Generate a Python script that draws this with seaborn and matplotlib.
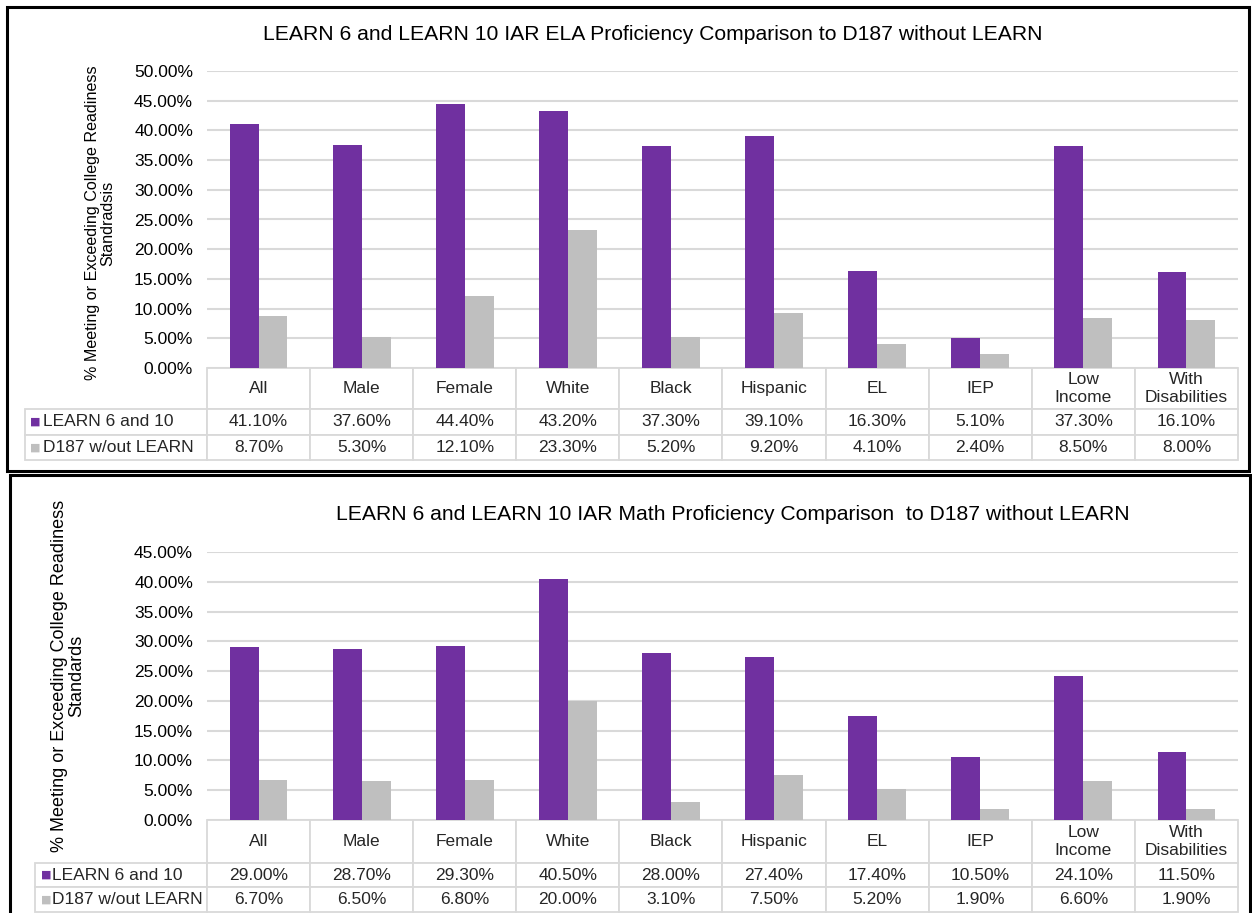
import pandas as pd
import matplotlib
matplotlib.use("Agg")
import matplotlib.pyplot as plt
import seaborn as sns
from matplotlib.patches import Rectangle
from matplotlib.ticker import PercentFormatter, MultipleLocator

groups = ["All", "Male", "Female", "White", "Black", "Hispanic", "EL", "IEP",
          "Low\nIncome", "With\nDisabilities"]
series = ["LEARN 6 and 10", "D187 w/out LEARN"]

ela_learn = [41.1, 37.6, 44.4, 43.2, 37.3, 39.1, 16.3, 5.1, 37.3, 16.1]
ela_d187 = [8.7, 5.3, 12.1, 23.3, 5.2, 9.2, 4.1, 2.4, 8.5, 8.0]
math_learn = [29.0, 28.7, 29.3, 40.5, 28.0, 27.4, 17.4, 10.5, 24.1, 11.5]
math_d187 = [6.7, 6.5, 6.8, 20.0, 3.1, 7.5, 5.2, 1.9, 6.6, 1.9]

ela_title = "LEARN 6 and LEARN 10 IAR ELA Proficiency Comparison to D187 without LEARN"
math_title = "LEARN 6 and LEARN 10 IAR Math Proficiency Comparison  to D187 without LEARN"
ela_ylabel = "% Meeting or Exceeding College Readiness\nStandradsis"
math_ylabel = "% Meeting or Exceeding College Readiness\nStandards"

PURPLE = "#7030A0"
GRAY = "#BFBFBF"
GRID = "#D9D9D9"
W, H = 1252, 913

sns.set_style("white")
plt.rcParams["font.family"] = ["Liberation Sans", "DejaVu Sans"]


def fx(px):
    return px / W


def fy(py):
    return 1 - py / H


def panel(fig, learn, d187, title, ylabel, ymax, plot_box, tab_left, rows_px,
          title_xy, ylabel_xy, ylabel_size, key_x):
    left, top, right, bottom = plot_box
    ax = fig.add_axes([fx(left), fy(bottom), fx(right - left), (bottom - top) / H])

    df = pd.DataFrame({
        "group": groups * 2,
        "series": [series[0]] * len(groups) + [series[1]] * len(groups),
        "value": learn + d187,
    })
    sns.barplot(data=df, x="group", y="value", hue="series", order=groups,
                hue_order=series, palette=[PURPLE, GRAY], saturation=1,
                width=0.56, gap=0, errorbar=None, legend=False, linewidth=0, ax=ax)

    ax.set_ylim(0, ymax)
    ax.yaxis.set_major_locator(MultipleLocator(5))
    ax.yaxis.set_major_formatter(PercentFormatter(decimals=2))
    ax.set_axisbelow(True)
    ax.yaxis.grid(True, color=GRID, linewidth=1.5)
    ax.xaxis.grid(False)
    for s in ax.spines.values():
        s.set_visible(False)
    ax.tick_params(axis="x", length=0, labelbottom=False)
    ax.tick_params(axis="y", length=0, pad=10, labelsize=12.5, labelcolor="black")
    ax.set_xlabel("")
    ax.set_ylabel("")

    # data table under the bars
    ax_w = right - left
    ax_h = bottom - top
    lab_w = (left - tab_left) / ax_w
    tab_h = sum(rows_px) / ax_h
    cell_text = [[""] + groups,
                 [series[0]] + [f"{v:.2f}%" for v in learn],
                 [series[1]] + [f"{v:.2f}%" for v in d187]]
    tbl = ax.table(cellText=cell_text, colWidths=[lab_w] + [1 / len(groups)] * len(groups),
                   cellLoc="center", bbox=[-lab_w, -tab_h, 1 + lab_w, tab_h])
    tbl.auto_set_font_size(False)
    tbl.set_fontsize(12.5)
    for (r, c), cell in tbl.get_celld().items():
        cell.set_edgecolor(GRID)
        cell.set_linewidth(1.3)
        cell.set_height(rows_px[r])
        if c == 0:
            cell.set_text_props(ha="left")
    tbl[0, 0].visible_edges = ""

    # legend keys inside the row-label cells
    y1 = -(rows_px[0] + rows_px[1] / 2) / ax_h
    y2 = -(rows_px[0] + rows_px[1] + rows_px[2] / 2) / ax_h
    kx = (key_x - left) / ax_w
    for yy, col in [(y1, PURPLE), (y2, GRAY)]:
        ax.text(kx, yy, "\u25A0", color=col, fontsize=8, family="DejaVu Sans",
                ha="center", va="center", transform=ax.transAxes)

    fig.text(fx(title_xy[0]), fy(title_xy[1]), title, fontsize=15.2,
             ha="center", va="center", color="black")
    fig.text(fx(ylabel_xy[0]), fy(ylabel_xy[1]), ylabel, fontsize=ylabel_size,
             rotation=90, ha="center", va="center", multialignment="center",
             color="black", linespacing=1.05)
    return ax


fig = plt.figure(figsize=(W / 100, H / 100), dpi=100)
fig.patch.set_facecolor("white")

panel(fig, ela_learn, ela_d187, ela_title, ela_ylabel, 50,
      plot_box=(207, 71, 1238, 368), tab_left=25, rows_px=[41, 26, 25],
      title_xy=(653, 35), ylabel_xy=(100, 223), ylabel_size=11.6, key_x=35)

panel(fig, math_learn, math_d187, math_title, math_ylabel, 45,
      plot_box=(207, 552, 1238, 820), tab_left=35, rows_px=[43, 24, 25],
      title_xy=(733, 514), ylabel_xy=(68, 676), ylabel_size=13, key_x=46)

# frames around the two pasted charts
fig.patches.append(Rectangle((fx(6.5), fy(471)), fx(1249 - 6.5), (471 - 7.5) / H,
                             transform=fig.transFigure, fill=False,
                             edgecolor="black", linewidth=2.2))
fig.patches.append(Rectangle((fx(9.5), fy(940)), fx(1250 - 9.5), (940 - 475.5) / H,
                             transform=fig.transFigure, fill=False,
                             edgecolor="black", linewidth=2.2))

fig.savefig("out.png", dpi=100, facecolor="white")
